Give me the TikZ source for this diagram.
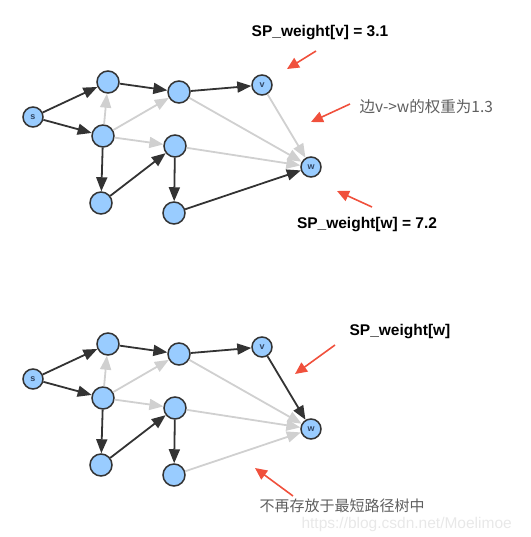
\documentclass[tikz,border=0pt]{standalone}
\usepackage{fontspec}
\setmainfont{Liberation Sans}
\newfontfamily\cjk{Noto Sans CJK SC}
\usetikzlibrary{arrows.meta}

\definecolor{nodeblue}{RGB}{153,204,255}
\definecolor{edgedark}{RGB}{51,51,51}
\definecolor{edgelight}{RGB}{208,208,208}
\definecolor{hintred}{RGB}{240,80,60}
\definecolor{notegrey}{RGB}{95,95,95}
\definecolor{nodetext}{RGB}{50,70,100}

\begin{document}
\begin{tikzpicture}[
    x=1pt, y=-1pt,
    vertex/.style={circle, draw=edgedark, fill=nodeblue, line width=1.5pt, minimum size=22pt, inner sep=0pt, text=nodetext, font=\fontsize{9}{9}\selectfont\bfseries},
    endpt/.style={vertex, minimum size=20pt},
    treeedge/.style={-{Triangle[length=14pt,width=11pt]}, draw=edgedark, line width=1.8pt},
    grayedge/.style={treeedge, draw=edgelight},
    hint/.style={-{Triangle[length=12pt,width=11pt]}, draw=hintred, line width=1.6pt},
    note/.style={font=\fontsize{15.5}{15.5}\selectfont\bfseries},
    cjknote/.style={anchor=west, text=notegrey, font=\cjk\fontsize{15.5}{15.5}\selectfont}
]
    \useasboundingbox (0,0) rectangle (530,537);

    % upper graph
    \node[endpt] (s1) at (33,117) {s};
    \node[vertex] (a1) at (108,82) {};
    \node[vertex] (b1) at (179,92) {};
    \node[endpt] (v1) at (262,85) {v};
    \node[vertex] (c1) at (103,136) {};
    \node[vertex] (d1) at (175,146) {};
    \node[endpt] (w1) at (311,167) {w};
    \node[vertex] (e1) at (101,203) {};
    \node[vertex] (f1) at (174,213) {};

    \draw[grayedge] (c1) -- (a1);
    \draw[grayedge] (c1) -- (b1);
    \draw[grayedge] (c1) -- (d1);
    \draw[grayedge] (b1) -- (w1);
    \draw[grayedge] (d1) -- (w1);
    \draw[grayedge] (v1) -- (w1);
    \draw[treeedge] (s1) -- (a1);
    \draw[treeedge] (s1) -- (c1);
    \draw[treeedge] (a1) -- (b1);
    \draw[treeedge] (b1) -- (v1);
    \draw[treeedge] (c1) -- (e1);
    \draw[treeedge] (e1) -- (d1);
    \draw[treeedge] (d1) -- (f1);
    \draw[treeedge] (f1) -- (w1);

    \node[note] (weightv) at (320,33) {SP\_weight[v] = 3.1};
    \node[cjknote] (edgenote) at (356,107) {边v->w的权重为1.3};
    \node[note] (weightw) at (367,225) {SP\_weight[w] = 7.2};

    \coordinate (p1) at (316,51);  \coordinate (q1) at (287,69);
    \coordinate (p2) at (350,104); \coordinate (q2) at (311,122);
    \coordinate (p3) at (372,207); \coordinate (q3) at (337,191);
    \draw[hint] (p1) -- (q1);
    \draw[hint] (p2) -- (q2);
    \draw[hint] (p3) -- (q3);

    % lower graph
    \node[endpt] (s2) at (33,379) {s};
    \node[vertex] (a2) at (108,344) {};
    \node[vertex] (b2) at (179,354) {};
    \node[endpt] (v2) at (262,347) {v};
    \node[vertex] (c2) at (103,398) {};
    \node[vertex] (d2) at (175,408) {};
    \node[endpt] (w2) at (311,429) {w};
    \node[vertex] (e2) at (101,465) {};
    \node[vertex] (f2) at (174,475) {};

    \draw[grayedge] (c2) -- (a2);
    \draw[grayedge] (c2) -- (b2);
    \draw[grayedge] (c2) -- (d2);
    \draw[grayedge] (b2) -- (w2);
    \draw[grayedge] (d2) -- (w2);
    \draw[grayedge] (f2) -- (w2);
    \draw[treeedge] (s2) -- (a2);
    \draw[treeedge] (s2) -- (c2);
    \draw[treeedge] (a2) -- (b2);
    \draw[treeedge] (b2) -- (v2);
    \draw[treeedge] (c2) -- (e2);
    \draw[treeedge] (e2) -- (d2);
    \draw[treeedge] (d2) -- (f2);
    \draw[treeedge] (v2) -- (w2);

    \node[note] (weightw2) at (400,332) {SP\_weight[w]};
    \node[cjknote, font=\cjk\fontsize{15}{15}\selectfont] (treenote) at (256,506) {不再存放于最短路径树中};
    \node[anchor=west, text=black!9, font=\fontsize{15.5}{15.5}\selectfont] (mark) at (298,524) {https://blog.csdn.net/Moelimoe};

    \coordinate (p4) at (335,345); \coordinate (q4) at (295,374);
    \coordinate (p5) at (293,496); \coordinate (q5) at (255,468);
    \draw[hint] (p4) -- (q4);
    \draw[hint] (p5) -- (q5);
\end{tikzpicture}
\end{document}
